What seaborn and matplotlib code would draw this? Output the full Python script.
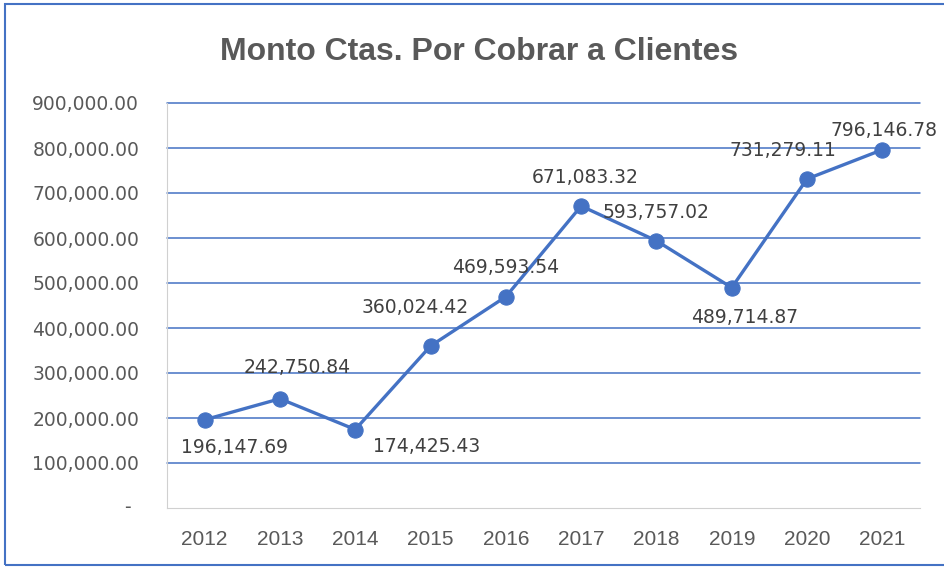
import numpy as np
import pandas as pd
import matplotlib
matplotlib.use('Agg')
import matplotlib.pyplot as plt
from matplotlib.patches import Rectangle
import seaborn as sns

years = [2012, 2013, 2014, 2015, 2016, 2017, 2018, 2019, 2020, 2021]
montos = [196147.69, 242750.84, 174425.43, 360024.42, 469593.54,
          671083.32, 593757.02, 489714.87, 731279.11, 796146.78]
yticks = [0, 100000, 200000, 300000, 400000, 500000, 600000, 700000, 800000, 900000]

# label offsets in pixels (dx, dy) relative to each point
label_off = [(30, -28), (17, 31), (71, -17), (-15, 38), (0, 29),
             (4, 29), (0, 28), (13, -30), (-24, 28), (2, 19)]

df = pd.DataFrame({'year': years, 'monto': montos})

sns.set_style('white')
narrow = ['Liberation Sans', 'DejaVu Sans']
plt.rcParams['font.family'] = ['DejaVu Sans']

blue = '#4472C4'
grey = '#595959'

fig = plt.figure(figsize=(9.45, 5.69), dpi=100)
ax = fig.add_axes([167/945, 61/569, 753/945, 405/569])

sns.lineplot(data=df, x='year', y='monto', ax=ax, color=blue, linewidth=2.4,
             marker='o', markersize=11, markeredgecolor=blue, zorder=3)

for (x, y), (dx, dy) in zip(zip(years, montos), label_off):
    ax.annotate(f'{y:,.2f}', (x, y), xytext=(dx, dy), textcoords='offset pixels',
                ha='center', va='center', fontsize=13.5, color='#404040')

ax.set_xlim(2011.5, 2021.5)
ax.set_ylim(0, 900000)
ax.set_xticks(years)
ax.set_xticklabels([str(y) for y in years], family=narrow, fontsize=15, color=grey)
ax.set_yticks(yticks)
ax.set_yticklabels([''] + [f'{v:,.2f}' for v in yticks[1:]], fontsize=13.5, color=grey)
# zero label in accounting style sits further right
ax.annotate('-', xy=(0, 0), xycoords='axes fraction', xytext=(-40, 0),
            textcoords='offset pixels', ha='center', va='center',
            fontsize=13.5, color=grey)
ax.tick_params(axis='y', length=0, pad=20)
ax.tick_params(axis='x', length=0, pad=16)
ax.set_xlabel('')
ax.set_ylabel('')
for v in yticks[1:]:
    ax.axhline(v, color=blue, linewidth=1.1, zorder=1, clip_on=False)
for s in ['top', 'right']:
    ax.spines[s].set_visible(False)
ax.spines['left'].set_color('#D0D0D0')
ax.spines['bottom'].set_color('#D0D0D0')

fig.text(479/945, 1 - 52/569, 'Monto Ctas. Por Cobrar a Clientes', ha='center', va='center',
         fontsize=23, fontweight='bold', color=grey, family=narrow)

fig.patches.append(Rectangle((5/945, 4/569), 1.2, 561/569, transform=fig.transFigure,
                             fill=False, edgecolor=blue, linewidth=1.5))

fig.savefig('out.png', dpi=100)
